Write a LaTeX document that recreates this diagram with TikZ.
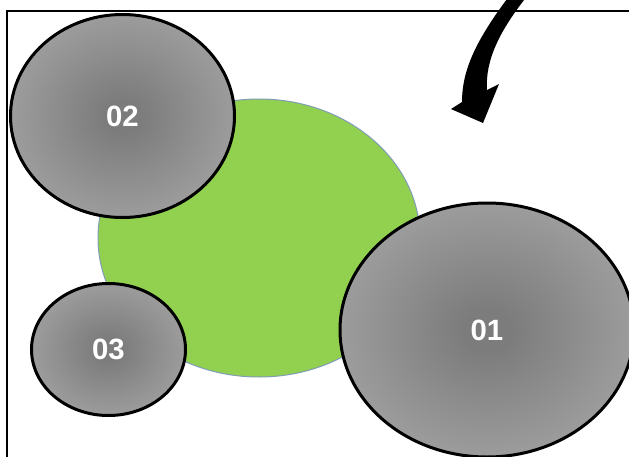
\documentclass[tikz,border=0pt]{standalone}
\usepackage{fontspec}
\setmainfont{Liberation Sans}
\usetikzlibrary{shapes.geometric}
\definecolor{ballin}{HTML}{7C7C7C}
\definecolor{ballout}{HTML}{ADADAD}
\definecolor{leaf}{HTML}{92D050}
\definecolor{leafedge}{HTML}{7F9DB4}
\pgfdeclareradialshading{ballshade}{\pgfpoint{0bp}{0bp}}{color(0bp)=(ballin); color(4bp)=(ballin); color(36bp)=(ballout); color(50bp)=(ballout)}
\begin{document}
\begin{tikzpicture}[x=0.75pt,y=-0.75pt,
  ball/.style={ellipse, draw=black, line width=2.25pt, shading=ballshade, text=white,
    font=\fontsize{22}{26}\selectfont\bfseries, inner sep=0pt},
  hub/.style={ellipse, draw=leafedge, line width=0.75pt, fill=leaf, inner sep=0pt},
  framestyle/.style={draw=black, line width=1.5pt}]
\useasboundingbox (0,0) rectangle (629,457);
\clip (0,0) rectangle (629,457);
\draw[framestyle] (7,470) -- (7,10.5) -- (640,10.5);
\node[hub, minimum width=241.5pt, minimum height=208.5pt] (hub) at (259,238) {};
\node[ball, minimum width=168pt, minimum height=152.25pt] (n02) at (122.5,116) {02};
\node[ball, minimum width=115.5pt, minimum height=99pt] (n03) at (108.5,349.5) {03};
\node[ball, minimum width=220.5pt, minimum height=190.5pt] (n01) at (487,330) {\raisebox{-3pt}{01}};
\fill[black] (510,-5) .. controls (476,40) and (462,70) .. (462,102) -- (451,109) -- (483,123)
  -- (499,84) -- (487,90) .. controls (485,60) and (500,30) .. (528,-5) -- cycle;
\end{tikzpicture}
\end{document}
